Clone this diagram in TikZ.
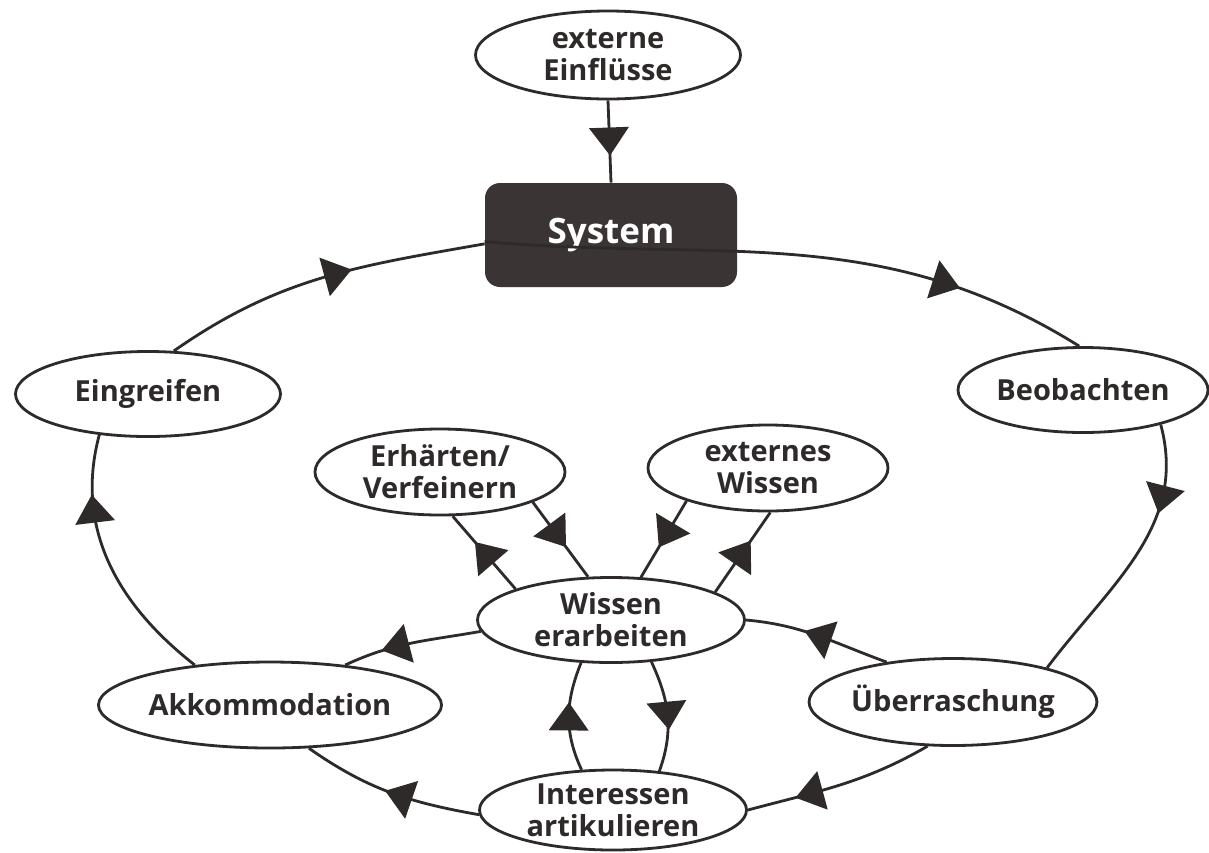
\documentclass[tikz,border=0pt]{standalone}
\usepackage{fontspec}
\setmainfont{Open Sans}
\usetikzlibrary{shapes.geometric,decorations.markings}
\definecolor{dk}{HTML}{2E2A2A}
\definecolor{boxc}{HTML}{3A3434}
\begin{document}
\begin{tikzpicture}[x=0.5pt,y=-0.5pt,
  el/.style={ellipse,draw=dk,line width=1.4pt,fill=white,inner sep=0pt,
    font=\bfseries\fontsize{14.5}{16}\selectfont,text=dk,align=center},
  sysbox/.style={fill=boxc,rounded corners=7.5pt,inner sep=0pt,
    minimum width=126pt,minimum height=52pt,text=white,
    font=\bfseries\fontsize{17.5}{20}\selectfont},
  con/.style={draw=dk,line width=1.4pt},
  tri/.style={postaction={decorate,decoration={markings,
    mark=at position #1 with {\fill[dk] (7pt,0pt) -- (-7pt,10pt) -- (-7pt,-10pt) -- cycle;}}}},
]
\useasboundingbox (0,0) rectangle (1209,852);
\fill[white] (0,0) rectangle (1209,852);

\node[el,minimum width=132.5pt,minimum height=44pt] (ext) at (608,55) {externe\\Einflüsse};
\node[sysbox] (sys) at (611,235) {System};
\node[el,minimum width=132.5pt,minimum height=42.5pt] (eing) at (148,394) {Eingreifen};
\node[el,minimum width=125pt,minimum height=42.5pt] (beob) at (1083,390) {Beobachten};
\node[el,minimum width=125pt,minimum height=43pt] (erh) at (440,472) {Erhärten/\\Verfeinern};
\node[el,minimum width=120pt,minimum height=43pt] (extw) at (768,468) {externes\\Wissen};
\node[el,minimum width=133.5pt,minimum height=42.5pt] (wiss) at (611,620) {Wissen\\erarbeiten};
\node[el,minimum width=132.5pt,minimum height=43pt] (akk) at (270,705) {Akkommodation};
\node[el,minimum width=134pt,minimum height=43.5pt] (ueb) at (953,702) {Überraschung};
\node[el,minimum width=133.5pt,minimum height=40pt] (int) at (613,810) {Interessen\\artikulieren};

\draw[con,tri=0.5] (ext.south) -- (sys.north);
\draw[con,tri=0.76] (sys.-177) to[out=-5,in=148] (beob.95);
\draw[con,tri=0.27] (beob.-24) to[out=-75,in=53] (ueb.20);
\draw[con,tri=0.5] (ueb.149) to[out=160,in=-5] (wiss.east);
\draw[con,tri=0.67] (ueb.-120) to[out=-150,in=15] (int.east);
\draw[con,tri=0.45] (int.182) to[out=170,in=-35] (akk.-48);
\draw[con,tri=0.62] (wiss.185) to[out=190,in=25] (akk.28);
\draw[con,tri=0.72] (akk.152) to[out=142,in=-105] (eing.-140);
\draw[con,tri=0.55] (eing.59) to[out=35,in=190] (sys.184);

\draw[con,tri=0.5] (wiss.162) -- (erh.-74);
\draw[con,tri=0.45] (erh.-18) -- (wiss.118);
\draw[con,tri=0.45] (extw.-158) -- (wiss.55);
\draw[con,tri=0.5] (wiss.15) -- (extw.-87);

\draw[con,tri=0.5] (int.128) to[out=115,in=-112] (wiss.-125);
\draw[con,tri=0.5] (wiss.-46) to[out=-65,in=70] (int.40);
\end{tikzpicture}
\end{document}
